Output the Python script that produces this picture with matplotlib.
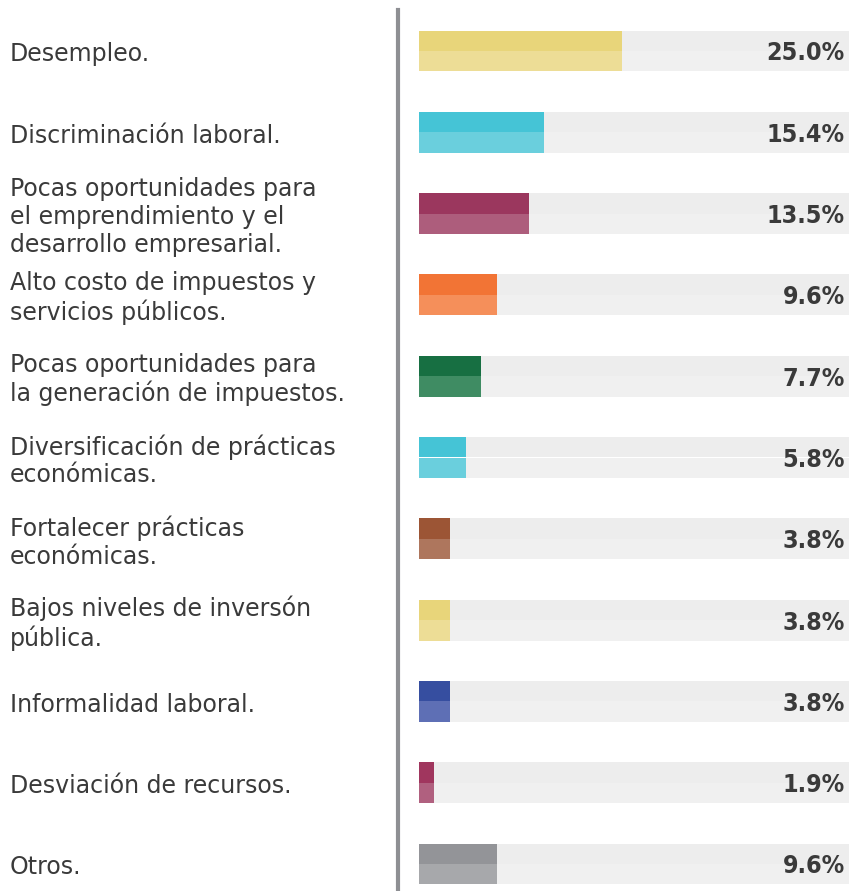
import matplotlib
matplotlib.use("Agg")
import matplotlib.pyplot as plt
from matplotlib.transforms import blended_transform_factory

# datos
categorias = [
    "Desempleo.",
    "Discriminación laboral.",
    "Pocas oportunidades para\nel emprendimiento y el\ndesarrollo empresarial.",
    "Alto costo de impuestos y\nservicios públicos.",
    "Pocas oportunidades para\nla generación de impuestos.",
    "Diversificación de prácticas\neconómicas.",
    "Fortalecer prácticas\neconómicas.",
    "Bajos niveles de inversón\npública.",
    "Informalidad laboral.",
    "Desviación de recursos.",
    "Otros.",
]
porcentajes = [25.0, 15.4, 13.5, 9.6, 7.7, 5.8, 3.8, 3.8, 3.8, 1.9, 9.6]

# colores (parte superior, parte inferior)
color_sup = ["#e8d57a", "#45c4d6", "#9b375e", "#f27435", "#176f42", "#45c4d6",
             "#9c5535", "#e8d57a", "#364ea0", "#a0365e", "#939498"]
color_inf = ["#eddd96", "#6acfdd", "#ad5d7c", "#f58f5a", "#3f8c63", "#6acfdd",
             "#ae765d", "#eddd96", "#5e6fb5", "#b0607f", "#a7a8ab"]

W, H = 849, 891
fig = plt.figure(figsize=(W / 100, H / 100), dpi=100)

# eje de barras
ax = fig.add_axes([419 / W, 0, 430 / W, 1])
paso = 81.3
ax.set_ylim((H - 51) / paso, -51 / paso)
xmax = 53.0
ax.set_xlim(0, xmax)
ax.axis("off")

filas = list(range(len(categorias)))
alto = 0.252
# pista de fondo
ax.barh([f - alto / 2 for f in filas], [xmax] * len(filas), height=alto, color="#ededed", linewidth=0)
ax.barh([f + alto / 2 for f in filas], [xmax] * len(filas), height=alto, color="#f0f0f0", linewidth=0)
# barras de valor en dos tonos
ax.barh([f - alto / 2 for f in filas], porcentajes, height=alto, color=color_sup, linewidth=0)
ax.barh([f + alto / 2 for f in filas], porcentajes, height=alto, color=color_inf, linewidth=0)

# etiquetas de porcentaje
for f, v in zip(filas, porcentajes):
    ax.text(xmax * 0.99, f + 0.03, f"{v:.1f}%", ha="right", va="center",
            fontsize=18, fontweight="heavy", fontstretch="condensed", color="#3a3a3a",
            family="DejaVu Sans")

# etiquetas de categoria
trans = blended_transform_factory(fig.transFigure, ax.transData)
for f, c in zip(filas, categorias):
    ax.text(10 / W, f + 0.04, c, transform=trans, ha="left", va="center",
            fontsize=17, color="#3a3a3a", linespacing=1.2,
            family="DejaVu Sans", clip_on=False)

# linea vertical separadora
fig.add_artist(plt.Line2D([397.5 / W, 397.5 / W], [0, 1 - 10 / H],
                          transform=fig.transFigure, color="#8e8f93", linewidth=3))

fig.savefig("out.png", dpi=100)
